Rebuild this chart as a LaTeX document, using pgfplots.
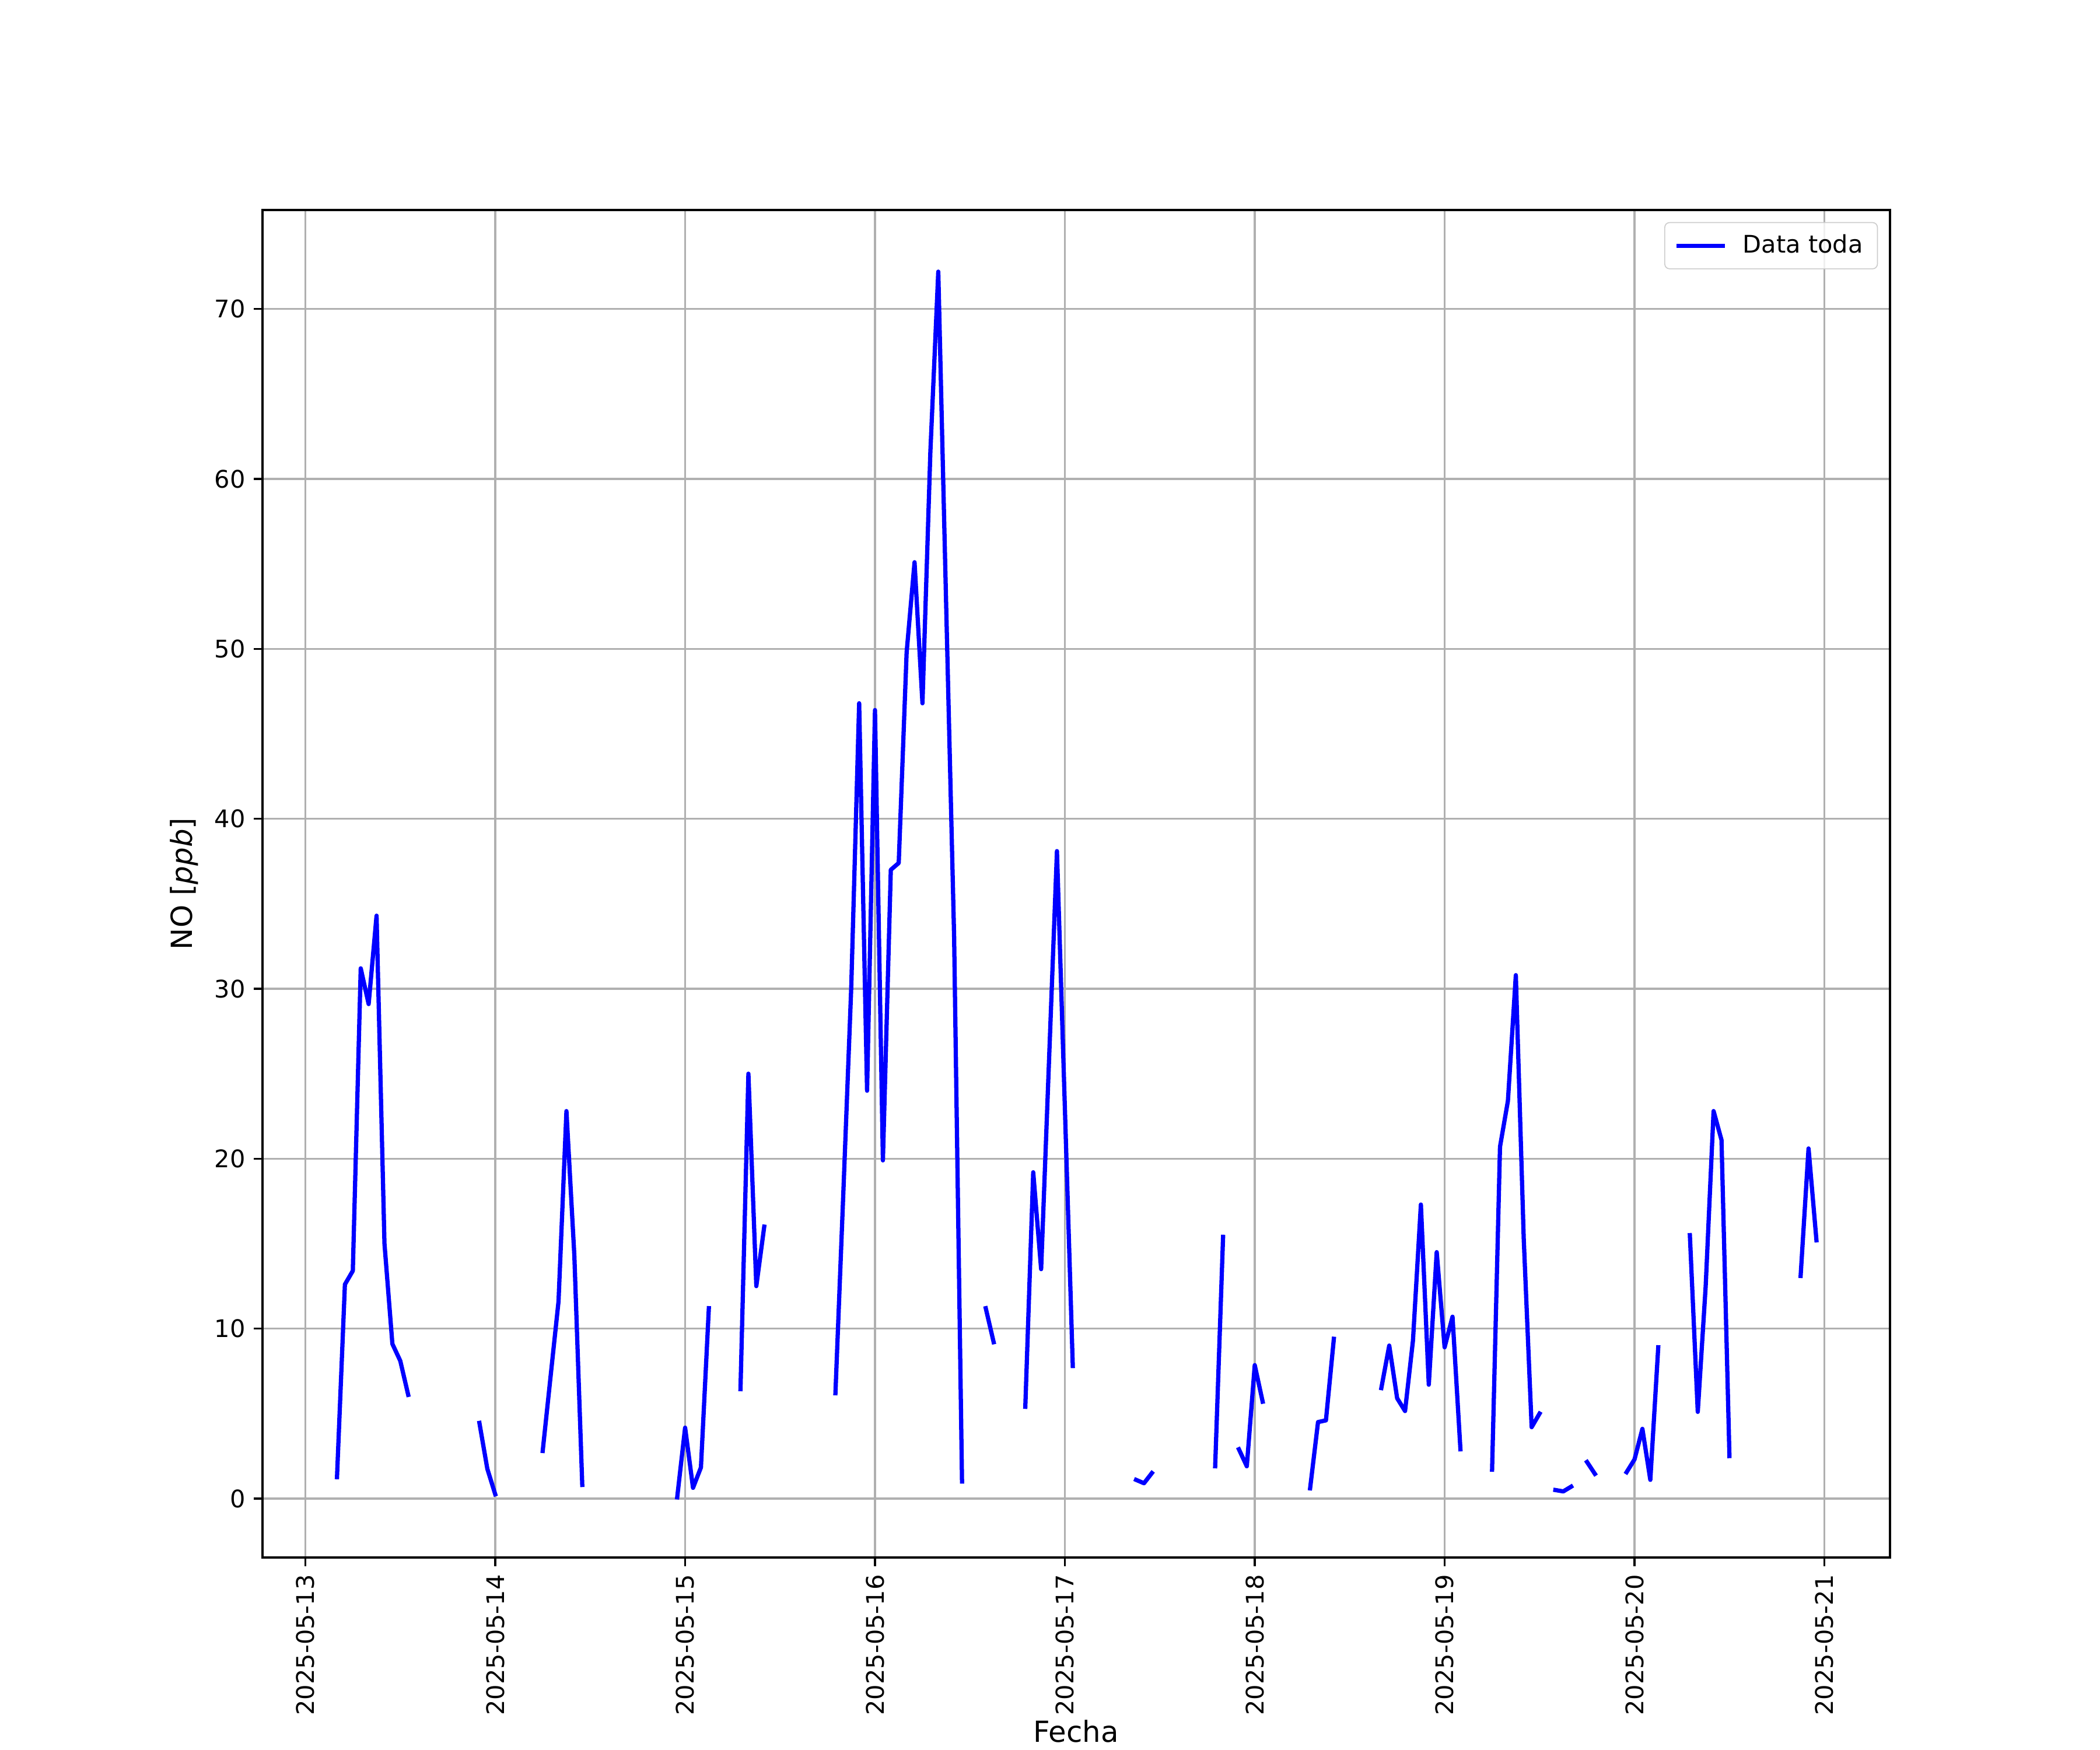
\documentclass[border=0pt]{standalone}
\usepackage{fontspec}
\setmainfont{DejaVu Sans}
\usepackage{pgfplots}
\pgfplotsset{compat=1.18}
\usepackage{pgfplotstable}

% hours since 2025-05-13 00:00, NO in ppb (nan = gap)
\pgfplotstableread{
h y
4 1.26
5 12.6
6 13.4
7 31.2
8 29.1
9 34.3
10 15.0
11 9.1
12 8.1
13 6.1
14 nan
22 4.45
23 1.75
24 0.25
25 nan
30 2.8
31 7.2
32 11.6
33 22.8
34 14.3
35 0.8
36 nan
47 0.07
48 4.17
49 0.63
50 1.83
51 11.2
52 nan
55 6.44
56 25.0
57 12.5
58 16.0
59 nan
67 6.2
68 18.0
69 30.1
70 46.8
71 24.0
72 46.4
73 19.9
74 37.0
75 37.4
76 49.8
77 55.1
78 46.8
79 61.6
80 72.2
81 52.5
82 33.1
83 1.0
84 nan
86 11.2
87 9.2
88 nan
91 5.4
92 19.2
93 13.5
94 25.8
95 38.1
96 23.0
97 7.8
98 nan
105 1.1
106 0.9
107 1.5
108 nan
115 1.9
116 15.4
117 nan
118 2.9
119 1.9
120 7.85
121 5.7
122 nan
127 0.6
128 4.5
129 4.6
130 9.4
131 nan
136 6.5
137 9.0
138 5.9
139 5.15
140 9.3
141 17.3
142 6.7
143 14.5
144 8.9
145 10.7
146 2.9
147 nan
150 1.7
151 20.7
152 23.4
153 30.8
154 15.3
155 4.2
156 5.0
157 nan
158 0.5
159 0.42
160 0.7
161 nan
162 2.15
163 1.45
164 nan
167 1.55
168 2.3
169 4.1
170 1.1
171 8.9
172 nan
175 15.5
176 5.1
177 12.5
178 22.8
179 21.1
180 2.5
181 nan
189 13.1
190 20.6
191 15.2
}\datatable

\begin{document}
\begin{tikzpicture}
\path[use as bounding box] (0,0) rectangle (12in,10in);
\begin{axis}[
  at={(1.5in,1.1in)}, anchor=south west,
  width=9.3in, height=7.7in, scale only axis,
  xmin=-0.2257, xmax=8.3457, ymin=-3.47, ymax=75.83,
  xtick={0,1,2,3,4,5,6,7,8},
  xticklabels={2025-05-13,2025-05-14,2025-05-15,2025-05-16,2025-05-17,2025-05-18,2025-05-19,2025-05-20,2025-05-21},
  xticklabel style={rotate=90, anchor=east},
  ytick={0,10,20,30,40,50,60,70},
  grid=major,
  grid style={color=black!31, line width=0.8pt},
  axis line style={line width=0.8pt},
  tick style={black, line width=0.8pt},
  tick align=outside, tick pos=left,
  major tick length=3.5pt,
  xlabel={Fecha}, ylabel={NO [\textit{ppb}]},
  unbounded coords=jump,
  /pgf/number format/assume math mode=true,
  tick label style={font=\fontsize{10}{12}\selectfont},
  label style={font=\fontsize{12}{14}\selectfont},
  xlabel style={inner ysep=0.5pt, yshift=2pt},
  legend style={at={(1,1)}, anchor=north east, xshift=-5pt, yshift=-5pt,
    draw=black!20, rounded corners=2pt, fill=white, fill opacity=0.8, text opacity=1,
    font=\fontsize{10}{12}\selectfont, inner xsep=4pt, inner ysep=3pt,
    /tikz/every odd column/.append style={column sep=4.5pt}},
  legend cell align=left,
  legend image code/.code={\draw[#1, line cap=butt] (0pt,0pt) -- (20pt,0pt);},
]
\addplot[color=blue, line width=1.75pt, line cap=rect, line join=round] table[x expr=\thisrow{h}/24, y=y] {\datatable};
\addlegendentry{Data toda}
\end{axis}
\end{tikzpicture}
\end{document}
